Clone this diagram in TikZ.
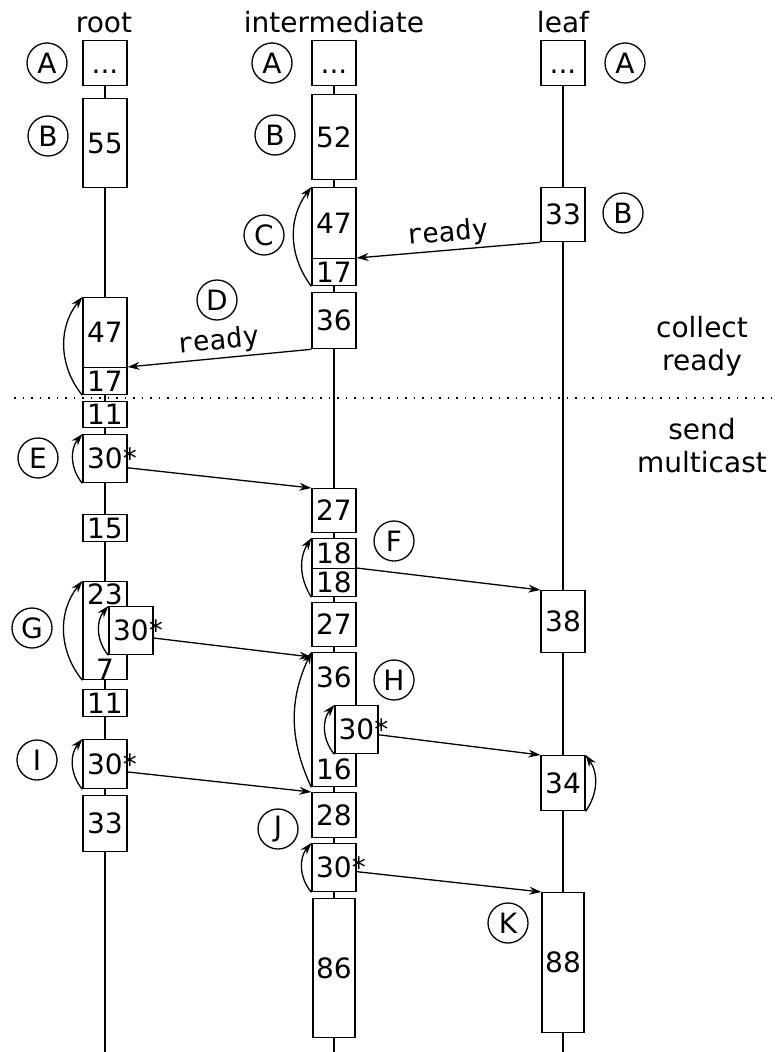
\documentclass[tikz,border=0pt]{standalone}
\usepackage{fontspec}
\setmainfont{DejaVu Sans}
\setmonofont{DejaVu Sans Mono}
\usetikzlibrary{positioning, arrows.meta, calc}
\newcommand{\bigtxt}{\fontsize{28}{33}\selectfont}
\newcommand{\msgtxt}{\fontsize{27.5}{30}\selectfont\ttfamily}
\tikzset{
  slotbox/.style  = {draw, fill=white, line width=1.3pt, anchor=north,
                     minimum width=44pt, inner sep=0pt,
                     text height=20pt, text depth=0pt, font=\bigtxt},
  slottxt/.style  = {inner sep=0pt, text height=20pt, text depth=0pt,
                     font=\bigtxt},
  labcirc/.style  = {circle, draw, line width=1.3pt, minimum size=40pt,
                     inner sep=0pt, font=\bigtxt},
  msgarr/.style   = {-{Stealth[length=12pt, width=8pt, inset=4pt]},
                     line width=1.3pt},
  lifeline/.style = {line width=1.3pt},
  readylbl/.style = {sloped, above, inner sep=2.5pt, font=\msgtxt},
  phasetxt/.style = {align=center, font=\bigtxt},
  sepline/.style  = {line width=1.5pt, dash pattern=on 1.5pt off 7pt},
}

\begin{document}
\begin{tikzpicture}[x=1pt, y=-1pt]
  \useasboundingbox (0,0) rectangle (774,1052);
  % column heads
  \node[font=\bigtxt, anchor=base] (hroot) at (104,32) {root};
  \node[font=\bigtxt, anchor=base] (hint)  at (334,32) {intermediate};
  \node[font=\bigtxt, anchor=base] (hleaf) at (563,32) {leaf};

  % first slots, then the lifelines behind the rest
  \node[slotbox, minimum height=45pt] (rA) at (105,40) {...};
  \node[slotbox, minimum height=45pt] (iA) at (334,40) {...};
  \node[slotbox, minimum height=45pt] (lA) at (563,40) {...};
  \coordinate (rEnd) at (105,1052);
  \coordinate (iEnd) at (334,1052);
  \coordinate (lEnd) at (563,1052);
  \draw[lifeline] (rA) -- (rEnd);
  \draw[lifeline] (iA) -- (iEnd);
  \draw[lifeline] (lA) -- (lEnd);

  % root
  \node[slotbox, minimum height=89pt] (r55)  at (105,98)  {55};
  \node[slotbox, minimum height=70pt] (r47)  at (105,297) {47};
  \node[slotbox, minimum height=27pt] (r17)  at (105,367) {17};
  \node[slotbox, minimum height=26pt] (r11a) at (105,401) {11};
  \node[slotbox, minimum height=48pt] (r30e) at (105,434) {30\rlap{*}};
  \node[slotbox, minimum height=27pt] (r15)  at (105,514) {15};
  \node[slotbox, minimum height=98pt] (r23)  at (105,581) {};
  \node[slottxt, below=3pt of r23.north] (r23t) {23};
  \node[slottxt, above=1pt of r23.south] (r7t)  {7};
  \node[slotbox, minimum height=48pt] (r30g) at (131,606) {30\rlap{*}};
  \node[slotbox, minimum height=27pt] (r11b) at (105,689) {11};
  \node[slotbox, minimum height=49pt] (r30i) at (105,739) {30\rlap{*}};
  \node[slotbox, minimum height=56pt] (r33)  at (105,795) {33};

  % intermediate
  \node[slotbox, minimum height=85pt] (i52)  at (334,94)  {52};
  \node[slotbox, minimum height=71pt] (i47)  at (334,187) {47};
  \node[slotbox, minimum height=27pt] (i17)  at (334,258) {17};
  \node[slotbox, minimum height=56pt] (i36a) at (334,292) {36};
  \node[slotbox, minimum height=44pt] (i27a) at (334,488) {27};
  \node[slotbox, minimum height=30pt] (i18a) at (334,538) {18};
  \node[slotbox, minimum height=28pt] (i18b) at (334,568) {18};
  \node[slotbox, minimum height=44pt] (i27b) at (334,602) {27};
  \node[slotbox, minimum height=134pt] (i36b) at (334,652) {};
  \node[slottxt, below=15pt of i36b.north] (i36t) {36};
  \node[slottxt, above=8pt of i36b.south] (i16t) {16};
  \node[slotbox, minimum height=48pt, minimum width=43pt] (i30h) at (356.5,705) {30\rlap{*}};
  \node[slotbox, minimum height=45pt] (i28)  at (334,792) {28};
  \node[slotbox, minimum height=48pt] (i30j) at (334,843) {30\rlap{*}};
  \node[slotbox, minimum height=139pt, minimum width=42pt] (i86) at (334,898) {86};

  % leaf
  \node[slotbox, minimum height=54pt]  (l33) at (563,187) {33};
  \node[slotbox, minimum height=62pt]  (l38) at (563,590) {38};
  \node[slotbox, minimum height=55pt]  (l34) at (563,755) {34};
  \node[slotbox, minimum height=140pt, minimum width=42pt] (l88) at (563,892) {88};

  % step marks
  \node[labcirc] (cA1) at (47,63)   {A};
  \node[labcirc] (cA2) at (272,63)  {A};
  \node[labcirc] (cA3) at (625,63)  {A};
  \node[labcirc] (cB1) at (48,136)  {B};
  \node[labcirc] (cB2) at (275,135) {B};
  \node[labcirc] (cB3) at (623,213) {B};
  \node[labcirc] (cC)  at (264,235) {C};
  \node[labcirc] (cD)  at (217,300) {D};
  \node[labcirc] (cE)  at (38,458)  {E};
  \node[labcirc] (cF)  at (394,541) {F};
  \node[labcirc] (cG)  at (32,628)  {G};
  \node[labcirc] (cH)  at (394,680) {H};
  \node[labcirc] (cI)  at (37,760)  {I};
  \node[labcirc] (cJ)  at (278,829) {J};
  \node[labcirc] (cK)  at (508,923) {K};

  % phases
  \draw[sepline] (14,398) -- (774,398);
  \node[phasetxt] (collect) at (702,346) {collect\\ready};
  \node[phasetxt] (send)    at (702,446) {send\\multicast};

  % messages
  \draw[msgarr] (l33.south west) -- node[readylbl] {ready} (i17.north east);
  \draw[msgarr] (i36a.south west) -- node[readylbl] {ready} (r17.north east);
  \draw[msgarr] (r30e.-22) -- (i27a.north west);
  \draw[msgarr] (i18b.north east) -- (l38.north west);
  \draw[msgarr] (r30g.-18) -- ($(i36b.north west)+(0,5)$);
  \draw[msgarr] (i30h.-13) -- (l34.north west);
  \draw[msgarr] (r30i.-19) -- (i28.north west);
  \draw[msgarr] (i30j.-10) -- (l88.north west);

  % local loops
  \draw[msgarr] (i17.south west) to[bend left=37] (i47.north west);
  \draw[msgarr] (r17.south west) to[bend left=39] (r47.north west);
  \draw[msgarr] (r30e.south west) to[bend left=40] (r30e.north west);
  \draw[msgarr] (i18b.south west) to[bend left=32] (i18a.north west);
  \draw[msgarr] (r23.south west) to[bend left=39] (r23.north west);
  \draw[msgarr] (r30g.south west) to[bend left=40] (r30g.north west);
  \draw[msgarr] (i36b.south west) to[bend left=25] (i36b.north west);
  \draw[msgarr] (i30h.south west) to[bend left=40] (i30h.north west);
  \draw[msgarr] (r30i.south west) to[bend left=40] (r30i.north west);
  \draw[msgarr] (i30j.south west) to[bend left=40] (i30j.north west);
  \draw[msgarr] (l34.south east) to[bend right=35] (l34.north east);
\end{tikzpicture}
\end{document}
